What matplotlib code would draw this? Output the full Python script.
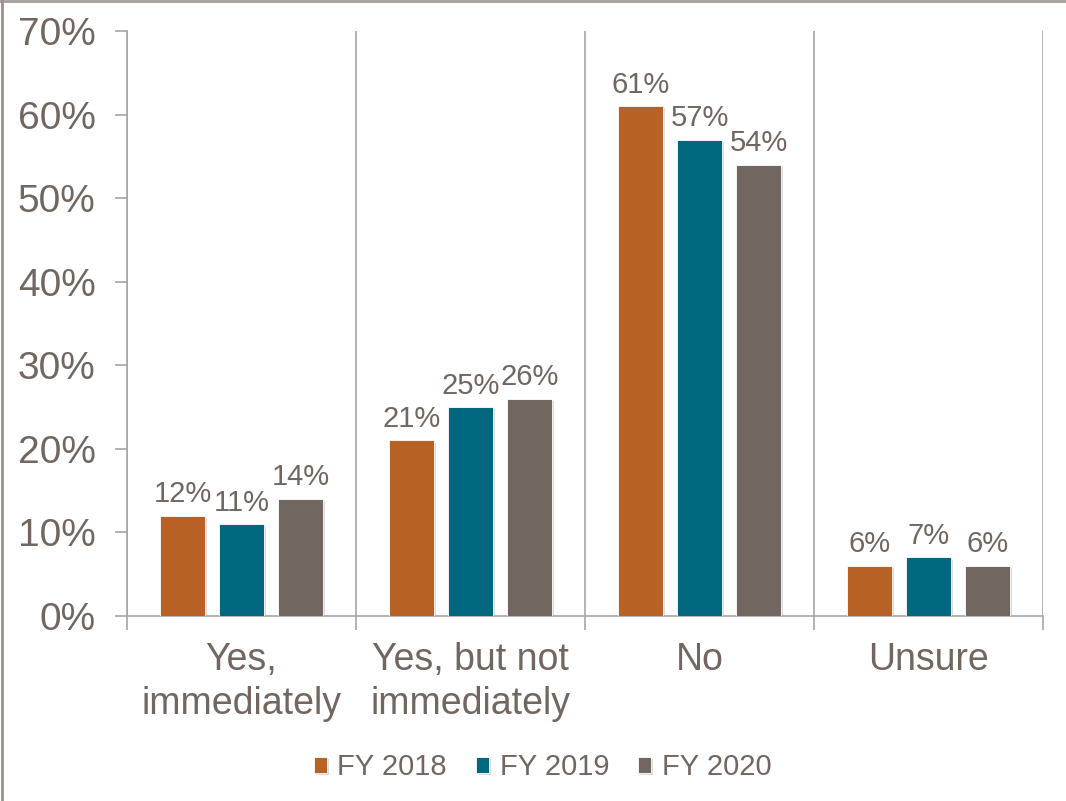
import numpy as np
import matplotlib.pyplot as plt
import matplotlib.patheffects as pe
from matplotlib.lines import Line2D

plt.rcParams['font.family'] = ['Liberation Sans', 'DejaVu Sans']

categories = ['Yes,\nimmediately', 'Yes, but not\nimmediately', 'No', 'Unsure']
series = ['FY 2018', 'FY 2019', 'FY 2020']
fy2018 = [12, 21, 61, 6]
fy2019 = [11, 25, 57, 7]
fy2020 = [14, 26, 54, 6]
values = [fy2018, fy2019, fy2020]
colors = ['#B86125', '#00677F', '#726660']
text_color = '#726660'
line_color = '#A6A6A6'

fig = plt.figure(figsize=(10.66, 8.01), dpi=100)
ax = fig.add_axes([0.1191, 0.2310, 0.8593, 0.7303])

x = np.arange(len(categories))
width = 0.197
offsets = [-0.258, 0, 0.258]
shadow = [pe.SimplePatchShadow(offset=(1.5, -1.5), shadow_rgbFace='#999999', alpha=0.35), pe.Normal()]

for vals, off, col, name in zip(values, offsets, colors, series):
    bars = ax.bar(x + off, vals, width, color=col, label=name, zorder=3,
                  edgecolor='white', linewidth=0.6)
    for b in bars:
        b.set_path_effects(shadow)
    for xi, v in zip(x + off, vals):
        ax.text(xi, v + 0.9, f'{v}%', ha='center', va='bottom', fontsize=21, color=text_color)

ax.set_xlim(-0.5, len(categories) - 0.5)
ax.set_ylim(0, 70)
ax.set_yticks(np.arange(0, 71, 10))
ax.set_yticklabels([f'{t}%' for t in range(0, 71, 10)], fontsize=28, color=text_color)
ax.tick_params(axis='y', length=8.6, width=1.2, color=line_color, pad=14)

# category boundaries as x ticks + vertical grid
bounds = np.arange(-0.5, len(categories), 1.0)
ax.set_xticks(bounds)
ax.set_xticklabels([])
ax.set_xticks(x, minor=True)
ax.set_xticklabels(categories, minor=True, fontsize=27, color=text_color, linespacing=1.28)
ax.tick_params(axis='x', which='major', length=10, width=1.2, color=line_color)
ax.tick_params(axis='x', which='minor', length=0, pad=19)
for b in bounds:
    ax.axvline(b, color=line_color, linewidth=1.2, zorder=1)

for s in ['top', 'right']:
    ax.spines[s].set_visible(False)
for s in ['left', 'bottom']:
    ax.spines[s].set_color(line_color)
    ax.spines[s].set_linewidth(1.2)

leg = fig.legend(loc='center', bbox_to_anchor=(0.509, 0.042), ncol=3, frameon=False,
                 fontsize=21, handlelength=0.45, handleheight=0.45, handletextpad=0.35,
                 columnspacing=1.0)
for t in leg.get_texts():
    t.set_color(text_color)

# outer frame lines (top and left)
fig.add_artist(Line2D([0, 1], [0.999, 0.999], transform=fig.transFigure, color='#A59E9A', linewidth=2))
fig.add_artist(Line2D([0.002, 0.002], [0, 1], transform=fig.transFigure, color='#9B918D', linewidth=2))

fig.savefig('out.png', dpi=100)
